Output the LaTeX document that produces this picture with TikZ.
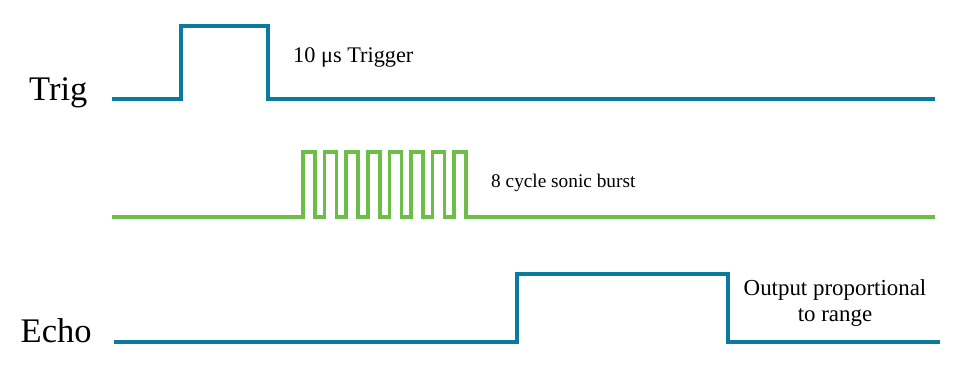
\documentclass[tikz,border=0pt]{standalone}
\usepackage{fontspec}
\setmainfont{Liberation Serif}
\definecolor{sigblue}{RGB}{10,122,160}
\definecolor{siggreen}{RGB}{108,190,72}
\begin{document}
\begin{tikzpicture}[x=1pt,y=-1pt,
  wave/.style={draw=sigblue,line width=4pt},
  burst/.style={draw=siggreen,line width=3.5pt},
  lbl/.style={inner sep=0pt,anchor=base west}]
\useasboundingbox (0,0) rectangle (960,387);

% signal names
\node[lbl,font=\fontsize{34.5}{40}\selectfont] (trig) at (29,101) {Trig};
\node[lbl,font=\fontsize{34.5}{40}\selectfont] (echo) at (20.5,342.3) {Echo};

% trigger pulse
\draw[wave] (112,99.5) -- (181,99.5) -- (181,26) -- (268,26) -- (268,99.5) -- (935,99.5);
\node[lbl,font=\fontsize{22.3}{26}\selectfont] (trigtxt) at (293,63) {10 μs Trigger};

% 8 cycle burst
\draw[burst] (112,217) -- (303,217)
  \foreach \k in {0,...,7} {
    -- ({303+21.6*\k},217) -- ({303+21.6*\k},152)
    -- ({315+21.6*\k},152) -- ({315+21.6*\k},217)
  } -- (935,217);
\node[lbl,font=\fontsize{19.3}{23}\selectfont] (bursttxt) at (491,187.3) {8 cycle sonic burst};

% echo pulse
\draw[wave] (114,342) -- (517,342) -- (517,273.5) -- (728,273.5) -- (728,342) -- (940,342);
\node[inner sep=0pt,anchor=base,align=center,font=\fontsize{22.9}{26.7}\selectfont]
  (echotxt) at (835,321.7) {Output proportional\\to range};
\end{tikzpicture}
\end{document}
